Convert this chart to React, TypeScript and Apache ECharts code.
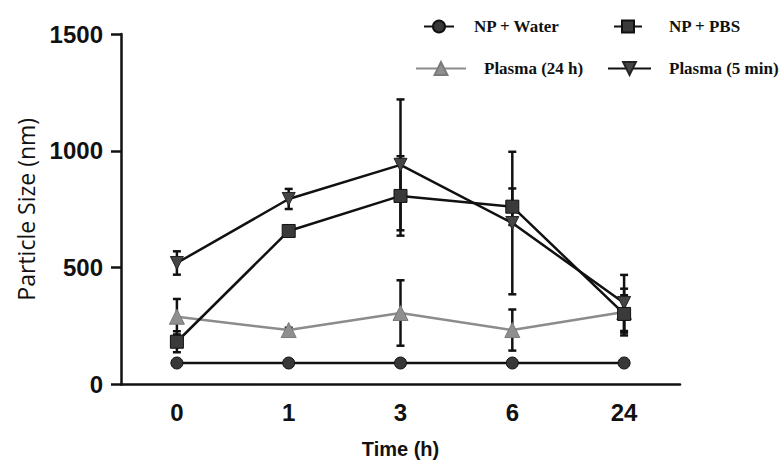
import React, { useEffect, useRef } from "react";
import * as echarts from "echarts";

const categories = ["0", "1", "3", "6", "24"];
const yTicks = { min: 0, max: 1500, interval: 500 };

const waterValues = [92, 92, 92, 92, 92];
const pbsValues = [183, 657, 807, 761, 302];
const pbsErr = [45, 15, 170, 78, 80];
const plasma24Values = [290, 233, 306, 233, 310];
const plasma24Err = [76, 10, 140, 88, 100];
const plasma5Values = [520, 794, 940, 691, 349];
const plasma5Err = [50, 43, 280, 305, 120];

const seriesNames = ["NP + Water", "NP + PBS", "Plasma (24 h)", "Plasma (5 min)"];

function errData(vals: number[], errs: number[]) {
  return vals.map((v, i) => [i, v - errs[i], v + errs[i]]);
}

export default function App() {
  const ref = useRef<HTMLDivElement>(null);
  useEffect(() => {
    if (!ref.current) return;
    const chart = echarts.init(ref.current, null, { renderer: "svg" });
    const errRender = (params: any, api: any) => {
      const x = api.value(0);
      const lo = api.value(1);
      const hi = api.value(2);
      const p1 = api.coord([x, hi]);
      const p2 = api.coord([x, lo]);
      const w = 4;
      const st = { stroke: "#111", lineWidth: 2.5 };
      return {
        type: "group",
        children: [
          { type: "line", shape: { x1: p1[0], y1: p1[1], x2: p2[0], y2: p2[1] }, style: st },
          { type: "line", shape: { x1: p1[0] - w, y1: p1[1], x2: p1[0] + w, y2: p1[1] }, style: st },
          { type: "line", shape: { x1: p2[0] - w, y1: p2[1], x2: p2[0] + w, y2: p2[1] }, style: st },
        ],
      };
    };
    const legendText = (pad: number) => ({
      fontFamily: "Liberation Serif",
      fontWeight: "bold" as const,
      fontSize: 17,
      color: "#111",
      padding: [0, 0, 0, pad],
    });
    const option: any = {
      animation: false,
      backgroundColor: "#fff",
      grid: { left: 121, right: 104, top: 34, bottom: 79.5, containLabel: false },
      legend: [
        { data: [seriesNames[0]], left: 423, top: 18, padding: 0, itemWidth: 30, itemHeight: 15, textStyle: legendText(15) },
        { data: [seriesNames[1]], left: 613, top: 18, padding: 0, itemWidth: 28, itemHeight: 15, textStyle: legendText(22) },
        { data: [seriesNames[2]], left: 415, top: 60, padding: 0, itemWidth: 50, itemHeight: 16, textStyle: legendText(13) },
        { data: [seriesNames[3]], left: 607, top: 60, padding: 0, itemWidth: 43, itemHeight: 16, textStyle: legendText(13) },
      ],
      xAxis: {
        type: "category",
        data: categories,
        boundaryGap: true,
        name: "Time (h)",
        nameLocation: "middle",
        nameGap: 54,
        nameTextStyle: { fontFamily: "Liberation Sans", fontWeight: "bold", fontSize: 20, color: "#111" },
        axisLine: { lineStyle: { color: "#111", width: 2.5 } },
        axisTick: { alignWithLabel: true, length: 8, lineStyle: { color: "#111", width: 2.5 } },
        axisLabel: { margin: 16, fontFamily: "Liberation Sans", fontWeight: "bold", fontSize: 24, color: "#111" },
        splitLine: { show: false },
      },
      yAxis: {
        type: "value",
        min: yTicks.min,
        max: yTicks.max,
        interval: yTicks.interval,
        name: "Particle Size (nm)",
        nameLocation: "middle",
        nameGap: 84,
        nameTextStyle: { fontFamily: "Open Sans", fontSize: 23, color: "#111" },
        axisLine: { show: true, lineStyle: { color: "#111", width: 2.5 } },
        axisTick: { show: true, length: 10, lineStyle: { color: "#111", width: 2.5 } },
        axisLabel: {
          margin: 18, fontFamily: "Liberation Sans", fontWeight: "bold", fontSize: 24, color: "#111",
          formatter: (v: number) => String(v),
        },
        splitLine: { show: false },
      },
      series: [
        { type: "custom", name: "errPBS", renderItem: errRender, data: errData(pbsValues, pbsErr), encode: { x: 0, y: [1, 2] }, z: 1, silent: true },
        { type: "custom", name: "errP24", renderItem: errRender, data: errData(plasma24Values, plasma24Err), encode: { x: 0, y: [1, 2] }, z: 1, silent: true },
        { type: "custom", name: "errP5", renderItem: errRender, data: errData(plasma5Values, plasma5Err), encode: { x: 0, y: [1, 2] }, z: 1, silent: true },
        {
          type: "line", name: seriesNames[2], data: plasma24Values, symbol: "triangle", symbolSize: 15,
          lineStyle: { color: "#8c8c8c", width: 2.5 }, itemStyle: { color: "#8f8f8f", borderColor: "#7a7a7a", borderWidth: 1 }, z: 2,
        },
        {
          type: "line", name: seriesNames[0], data: waterValues, symbol: "circle", symbolSize: 12,
          lineStyle: { color: "#111", width: 2.5 }, itemStyle: { color: "#383838", borderColor: "#111", borderWidth: 1 }, z: 3,
        },
        {
          type: "line", name: seriesNames[3], data: plasma5Values, symbol: "triangle", symbolRotate: 180, symbolSize: 13,
          lineStyle: { color: "#111", width: 2.5 }, itemStyle: { color: "#454545", borderColor: "#222", borderWidth: 1 }, z: 3,
        },
        {
          type: "line", name: seriesNames[1], data: pbsValues, symbol: "rect", symbolSize: 13,
          lineStyle: { color: "#111", width: 2.5 }, itemStyle: { color: "#3a3a3a", borderColor: "#111", borderWidth: 1 }, z: 4,
        },
      ],
    };
    chart.setOption(option);
    return () => chart.dispose();
  }, []);
  return <div ref={ref} style={{ position: "fixed", left: 0, top: 0, width: 784, height: 464 }} />;
}
